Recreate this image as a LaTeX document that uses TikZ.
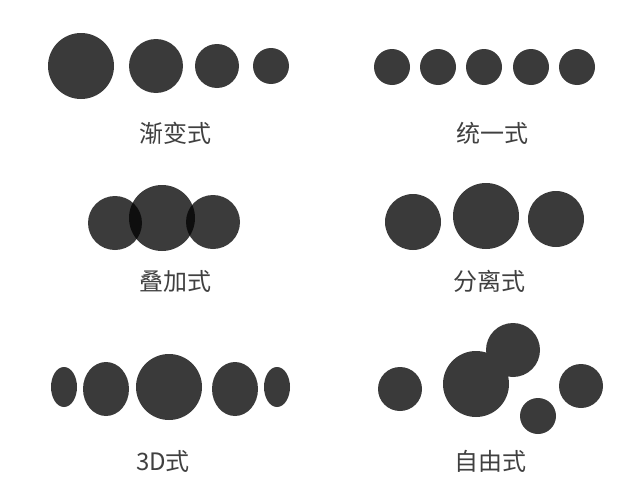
\documentclass[tikz,border=0pt]{standalone}
\usepackage{fontspec}
\newfontfamily\cjk{Noto Sans CJK SC}
\definecolor{dotgray}{RGB}{58,58,58}
\definecolor{textgray}{RGB}{64,64,64}

\begin{document}
\begin{tikzpicture}[x=0.75pt,y=0.75pt,yscale=-1,xscale=1,
  dot/.style={fill=dotgray},
  seethru/.style={fill=black,fill opacity=0.77},
  lbl/.style={inner sep=0.75pt,text=textgray,font=\cjk\fontsize{18}{20}\selectfont}]
\useasboundingbox (0,0) rectangle (640,500);

%Shape: Circles, gradual
\fill [dot] (81,66) circle (33);
\fill [dot] (156,66) circle (27);
\fill [dot] (217,66) circle (22);
\fill [dot] (271,66) circle (18);
%Shape: Circles, uniform
\foreach \cx in {392,438,484,531,577}
  \fill [dot] (\cx,67) circle (18);
%Shape: Circles, overlapping
\fill [seethru] (115,223) circle (27);
\fill [seethru] (162,218) circle (33);
\fill [seethru] (213,222) circle (27);
%Shape: Circles, separated
\fill [dot] (413,222) circle (28);
\fill [dot] (486,216) circle (33);
\fill [dot] (556,219) circle (28);
%Shape: Ellipses, 3D
\fill [dot] (64,387) ellipse (13 and 20);
\fill [dot] (106,389) ellipse (23 and 27);
\fill [dot] (169,387) circle (33);
\fill [dot] (235,389) ellipse (23 and 27);
\fill [dot] (277,387) ellipse (13 and 20);
%Shape: Circles, free
\fill [dot] (400,389) circle (22);
\fill [dot] (476,384) circle (33);
\fill [dot] (513,350) circle (27);
\fill [dot] (538,416) circle (18);
\fill [dot] (581,386) circle (22);

% Text Node
\node [lbl] (gradual) at (175,133) {渐变式};
% Text Node
\node [lbl] (uniform) at (492,133) {统一式};
% Text Node
\node [lbl] (overlap) at (175,281) {叠加式};
% Text Node
\node [lbl] (apart) at (489,281) {分离式};
% Text Node
\node [lbl] (threed) at (163,461) {3D式};
% Text Node
\node [lbl] (free) at (490,461) {自由式};

\end{tikzpicture}
\end{document}
